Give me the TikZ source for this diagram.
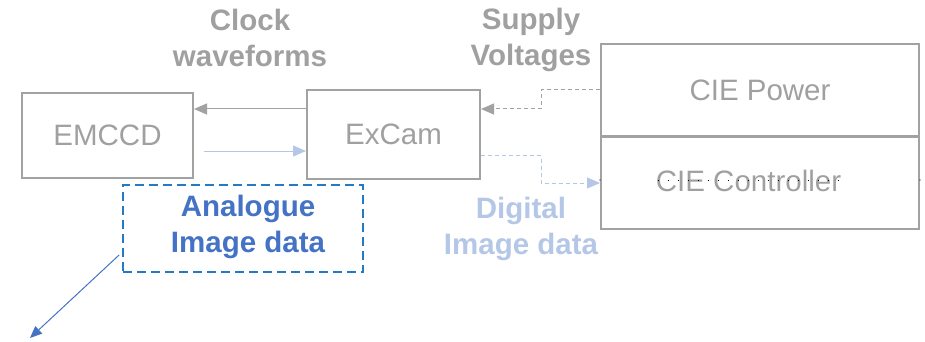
\documentclass[tikz,border=0pt]{standalone}
\usepackage{fontspec}
\setmainfont{Liberation Sans}
\usetikzlibrary{arrows.meta}

\definecolor{boxgray}{RGB}{162,162,162}
\definecolor{labelgray}{RGB}{160,160,160}
\definecolor{paleblue}{RGB}{180,199,231}
\definecolor{datablue}{RGB}{68,114,196}
\definecolor{framblue}{RGB}{36,122,198}

\tikzset{
  x=1pt, y=1pt,
  unit/.style={draw=boxgray, line width=2pt, text=labelgray, inner sep=0pt,
    font=\fontsize{29.5}{35}\selectfont},
  caption/.style={align=center, font=\fontsize{29.5}{36}\selectfont\bfseries},
  tip/.style={-{Triangle[length=13pt,width=11pt]}},
  dotline/.style={black, line width=0.9pt, dash pattern=on 1pt off 9pt},
}

\begin{document}
\begin{tikzpicture}
\useasboundingbox (0,0) rectangle (925,-342);

% units
\node[unit, minimum width=171pt, minimum height=85pt] (emccd) at (107.5,-135.5) {EMCCD};
\node[unit, minimum width=173pt, minimum height=89pt] (excam) at (393.5,-134.5) {ExCam};
\node[unit, minimum width=318pt, minimum height=92pt] (power) at (760,-90) {CIE Power};
\node[unit, minimum width=318pt, minimum height=92pt] (ctrl) at (760,-183) {};
\node[text=labelgray, inner sep=0pt, font=\fontsize{29.5}{35}\selectfont] (ctrltext) at (748.5,-181) {CIE Controller};
% dotted rule through the controller label, with marks on the box edges
\draw[dotline] ([xshift=2pt]ctrltext.west |- 0,-180) -- ([xshift=-2pt]ctrltext.east |- 0,-180);
\fill[black] (ctrl.west |- 0,-180) circle (0.6pt);
\fill[black] (ctrl.east |- 0,-180) circle (0.6pt);

% analogue image data frame
\node[draw=framblue, line width=1.8pt, dash pattern=on 9pt off 5pt,
      minimum width=240pt, minimum height=87pt, inner sep=0pt] (analogue) at (243,-228.5) {};
\node[caption, text=datablue] (analoguetext) at (248,-227) {Analogue\\Image data};

% signal labels
\node[caption, text=labelgray] (clocklbl) at (250,-38) {Clock\\waveforms};
\node[caption, text=labelgray] (supplylbl) at (531,-39.5) {Supply\\Voltages};
\node[caption, text=paleblue] (digitallbl) at (521,-229) {Digital\\Image data};

% clock waveforms: ExCam -> EMCCD
\draw[tip, boxgray, line width=1pt] (excam.west |- 0,-109) -- (emccd.east |- 0,-109);
% analogue data: EMCCD -> ExCam
\draw[tip, paleblue, line width=1pt] ([xshift=10pt]emccd.east |- 0,-151) -- (excam.west |- 0,-151);
% supply voltages: CIE Power -> ExCam
\draw[tip, boxgray, line width=1pt, dash pattern=on 4pt off 3pt]
  (power.west |- 0,-90) -- (541,-90) -- (541,-109) -- (excam.east |- 0,-109);
% digital data: ExCam -> CIE Controller
\draw[tip, paleblue, line width=1pt, dash pattern=on 4pt off 3pt]
  (excam.east |- 0,-155.5) -- (541,-155.5) -- (541,-183) -- (ctrl.west |- 0,-183);

% analogue data output
\coordinate (out) at (30,-338);
\draw[-{Triangle[length=12pt,width=10pt]}, datablue, line width=1pt] ([xshift=-3pt]analogue.west |- 0,-255) -- (out);
\end{tikzpicture}
\end{document}
